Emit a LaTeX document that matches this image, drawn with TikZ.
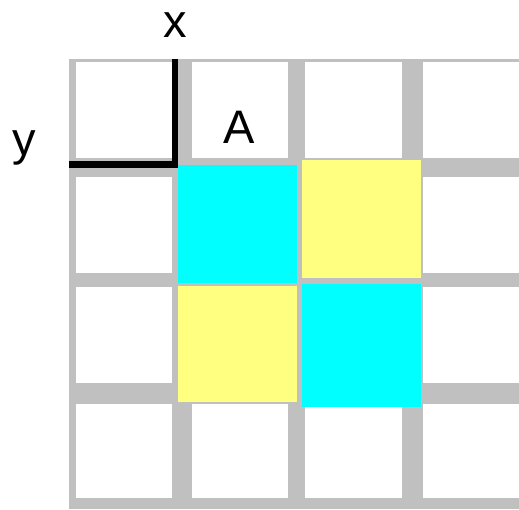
\documentclass[tikz,border=0pt]{standalone}
\usepackage{fontspec}
\setmainfont{Liberation Sans}
\definecolor{gridgray}{RGB}{192,192,192}
\definecolor{cellcyan}{RGB}{0,255,255}
\definecolor{cellyellow}{RGB}{255,255,128}
\begin{document}
\begin{tikzpicture}[x=1pt,y=-1pt,
  lbl/.style={font=\fontsize{47}{47}\selectfont, inner sep=0pt, anchor=base},
  whitecell/.style={fill=white},
  cyancell/.style={fill=cellcyan},
  yellowcell/.style={fill=cellyellow},
  axisline/.style={line width=6.5pt, black}]
\useasboundingbox (0,0) rectangle (519,509);
% grid background
\fill[gridgray] (69,59) rectangle (519,509);
% white cells
\foreach \xa/\xb in {76/172,192/288,305/402,423/519}{
  \foreach \ya/\yb in {62/158,177/273,287/383,404/498}{
    \fill[whitecell] (\xa,\ya) rectangle (\xb,\yb);
  }
}
% coloured cells
\fill[cyancell] (178,165) rectangle (297,283);
\fill[cellyellow] (302,160) rectangle (421,278);
\fill[cellyellow] (178,286) rectangle (297,402);
\fill[cyancell] (302,284) rectangle (421,407);
% axes
\draw[axisline] (175,59) -- (175,164.5) -- (69,164.5);
% labels
\node[lbl] (xlabel) at (175,37) {x};
\node[lbl] (ylabel) at (24,155) {y};
\node[lbl] (alabel) at (239,143) {A};
\end{tikzpicture}
\end{document}
